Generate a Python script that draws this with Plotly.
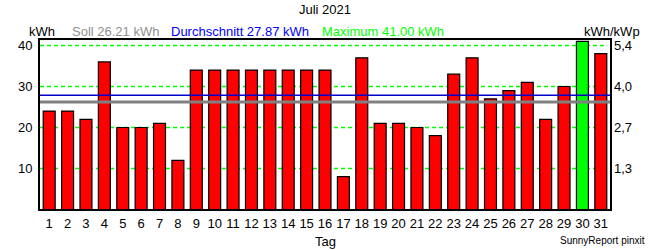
import plotly.graph_objects as go

days = list(range(1, 32))
values = [24, 24, 22, 36, 20, 20, 21, 12, 34, 34, 34, 34, 34, 34, 34, 34,
          8, 37, 21, 21, 20, 18, 33, 37, 27, 29, 31, 22, 30, 41, 38]
soll = 26.21
avg = 27.87
maximum = 41.00
left_ticks = [10, 20, 30, 40]
right_labels = ["1,3", "2,7", "4,0", "5,4"]

colors = ["#00ff00" if v == max(values) else "#ff0000" for v in values]
FONT = "Liberation Sans, Arial, sans-serif"

fig = go.Figure()
fig.add_trace(go.Bar(x=days, y=values, marker=dict(color=colors, line=dict(color="black", width=1.2)),
                     width=0.65, showlegend=False))
fig.add_trace(go.Scatter(x=[None], y=[None], yaxis="y2", showlegend=False))

for t in left_ticks:
    fig.add_shape(type="line", xref="paper", yref="y", x0=0, x1=0.995, y0=t, y1=t,
                  line=dict(color="#00ff00", width=1.5, dash="4px,3px"), layer="below")

fig.add_shape(type="line", xref="paper", yref="y", x0=0, x1=1, y0=soll, y1=soll,
              line=dict(color="#808080", width=3), layer="above")
fig.add_shape(type="line", xref="paper", yref="y", x0=0, x1=1, y0=avg, y1=avg,
              line=dict(color="#0000cc", width=1.3), layer="above")

yr = [0.122, 41.34]
fig.update_layout(
    width=650, height=250,
    margin=dict(l=40, r=40, t=40, b=41, autoexpand=False),
    paper_bgcolor="white", plot_bgcolor="white",
    font=dict(family=FONT, size=12, color="black"),
    xaxis=dict(range=[0.5, 31.5], tickmode="array", tickvals=days, ticktext=[str(d) for d in days],
               showgrid=False, zeroline=False, showline=True, linecolor="black", linewidth=2,
               mirror=True, ticks="", ticklabelstandoff=1, tickfont=dict(size=13), automargin=False),
    yaxis=dict(range=yr, tickmode="array", tickvals=left_ticks, ticktext=[str(t) for t in left_ticks],
               showgrid=False, zeroline=False, showline=True, linecolor="black", linewidth=2, mirror=True,
               ticks="", ticklabelstandoff=3, tickfont=dict(size=13), automargin=False),
    yaxis2=dict(range=yr, overlaying="y", side="right", tickmode="array", tickvals=left_ticks,
                ticktext=right_labels, showgrid=False, zeroline=False, showline=False,
                ticks="", ticklabelstandoff=3, tickfont=dict(size=13), automargin=False),
)

ann = [
    dict(text="Juli 2021", x=325, y=10, color="black", size=13, xanchor="center"),
    dict(text="kWh", x=27, y=32, color="black", size=13, xanchor="left"),
    dict(text="Soll 26.21 kWh", x=70, y=32, color="#909090", size=13, xanchor="left"),
    dict(text="Durchschnitt 27.87 kWh", x=169, y=32, color="#0000ff", size=13, xanchor="left"),
    dict(text="Maximum 41.00 kWh", x=320, y=32, color="#00ff00", size=13, xanchor="left"),
    dict(text="kWh/kWp", x=582, y=32, color="black", size=13, xanchor="left"),
    dict(text="Tag", x=325, y=242, color="black", size=13, xanchor="center"),
    dict(text="SunnyReport pinxit", x=647, y=240, color="black", size=10, xanchor="right"),
]
for a in ann:
    fig.add_annotation(text=a["text"], xref="paper", yref="paper",
                       x=(a["x"] - 40) / 570, y=(209 - a["y"]) / 169,
                       xanchor=a["xanchor"], yanchor="middle", showarrow=False,
                       font=dict(family=FONT, size=a["size"], color=a["color"]))

fig.write_html("out.html")
